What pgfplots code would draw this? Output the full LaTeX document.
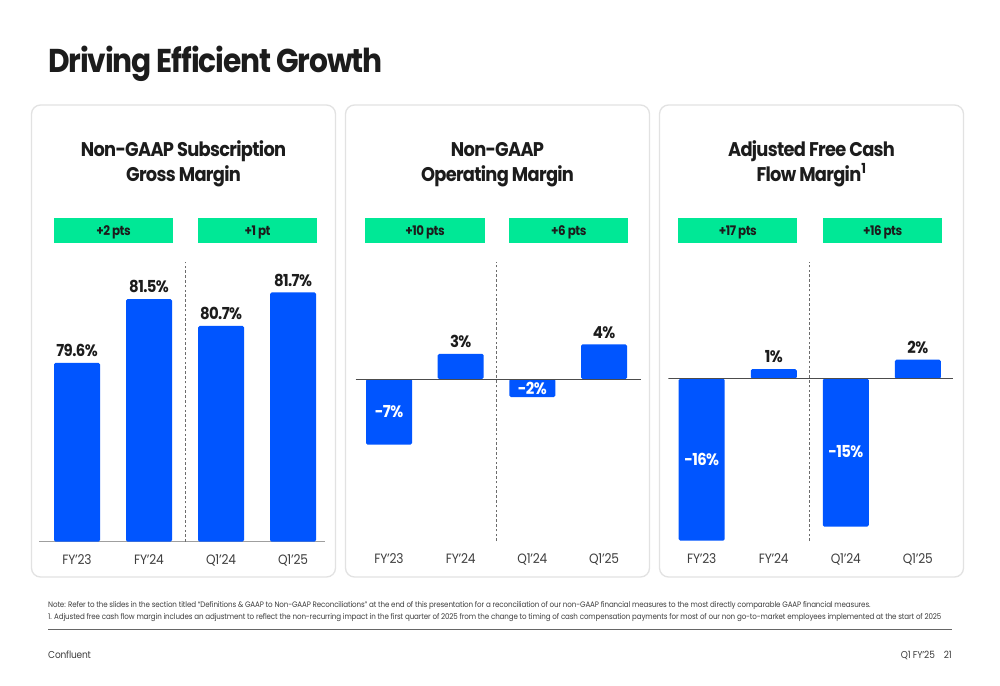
\documentclass[border=0pt]{standalone}
\usepackage{fontspec}
\setmainfont{Poppins}[FakeStretch=0.9, LetterSpace=-1.5,
  BoldFeatures={FakeStretch=0.9, LetterSpace=-3.5}]
\usepackage{pgfplots}
\pgfplotsset{compat=1.18}
\definecolor{cblue}{RGB}{0,85,255}
\definecolor{cgreen}{RGB}{0,232,150}
\definecolor{ink}{RGB}{28,28,28}
\definecolor{panelline}{RGB}{226,226,226}
\newcommand{\fs}[1]{\fontsize{#1}{#1}\selectfont}

\pgfplotsset{
  panel/.style={scale only axis, anchor=south west, width=285pt, height=279pt,
    hide y axis, axis x line*=bottom, x axis line style={draw=none},
    xtick={0,1,2,3}, xticklabels={FY’23,FY’24,Q1’24,Q1’25}, xtick style={draw=none},
    xticklabel style={font=\fs{13.5}, text=ink!85, anchor=base, yshift=-22.3pt}},
  bars/.style={ybar, bar width=46pt, bar shift=0pt, fill=cblue, draw=none, rounded corners=1.5pt,
    nodes near coords, point meta=explicit symbolic,
    every node near coord/.append style={font=\bfseries\fs{16.5}, text=ink, yshift=2.5pt}},
  inlabel/.style={draw=none, mark=none, nodes near coords, point meta=explicit symbolic,
    every node near coord/.append style={font=\bfseries\fs{16.5}, text=white, anchor=center}}
}
\tikzset{
  sep/.style={dash pattern=on 2.6pt off 2.2pt, gray!85!black, line width=0.9pt},
  zero/.style={gray!60!black, line width=1pt}
}

\begin{document}
\begin{tikzpicture}[x=1pt,y=-1pt]
\useasboundingbox (0,0) rectangle (1000,685);
\fill[white] (0,0) rectangle (1000,685);
\node[anchor=base west, font=\bfseries\fs{33}, text=ink, inner sep=0pt] at (48,72.3) {Driving Efficient Growth};

% panel frames
\foreach \px in {31.5,345.5,659.5}
  \draw[panelline, line width=1.3pt, rounded corners=9pt] (\px,105) rectangle ++(304,472);

% panel titles
\begin{scope}[every node/.style={anchor=base, font=\bfseries\fs{19.8}, text=ink, inner sep=0pt}]
\node at (183.5,156.7) {Non-GAAP Subscription};
\node at (183.5,181) {Gross Margin};
\node at (497.5,156.7) {Non-GAAP};
\node at (497.5,181) {Operating Margin};
\node at (811.5,156.7) {Adjusted Free Cash};
\node at (811.5,181.5) {Flow Margin\textsuperscript{1}};
\end{scope}

% badges
\begin{scope}[every node/.style={anchor=base, font=\bfseries\fs{13.2}, text=ink, inner sep=0pt}]
\fill[cgreen] (54,218) rectangle (173,243.3);   \node at (113.5,235) {+2 pts};
\fill[cgreen] (198,218) rectangle (317,243.3);  \node at (257.5,235) {+1 pt};
\fill[cgreen] (365.3,218) rectangle (484.7,243.3); \node at (425,235) {+10 pts};
\fill[cgreen] (509.3,218) rectangle (628.3,243.3); \node at (568.8,235) {+6 pts};
\fill[cgreen] (678.3,218) rectangle (797.3,243.3); \node at (737.8,235) {+17 pts};
\fill[cgreen] (823,218) rectangle (942.3,243.3);   \node at (882.6,235) {+16 pts};
\end{scope}

% Non-GAAP Subscription Gross Margin
\begin{axis}[panel, at={(39.3pt,-541.7pt)}, width=285.4pt, height=279.7pt,
  xmin=-0.524, xmax=3.44, ymin=74.26, ymax=82.61,
  x axis line style={draw=gray!75, line width=1pt}]
\addplot[bars] coordinates {(0,79.6)[79.6\%] (1,81.5)[81.5\%] (2,80.7)[80.7\%] (3,81.7)[81.7\%]};
\draw[sep] ({axis cs:1.5,0}|-{rel axis cs:0,0}) -- ({axis cs:1.5,0}|-{rel axis cs:0,1});
\end{axis}

% Non-GAAP Operating Margin
\begin{axis}[panel, at={(355.7pt,-541pt)}, width=285.3pt, height=279pt,
  xmin=-0.465, xmax=3.516, ymin=-18, ymax=13]
\addplot[bars] coordinates {(0,-7.3)[] (1,2.8)[3\%] (2,-2.0)[] (3,3.85)[4\%]};
\addplot[inlabel] coordinates {(0,-3.65)[-7\%] (2,-1.0)[-2\%]};
\draw[zero] ({rel axis cs:0,0}|-{axis cs:0,0}) -- ({rel axis cs:1,0}|-{axis cs:0,0});
\draw[sep] ({axis cs:1.5,0}|-{rel axis cs:0,0}) -- ({axis cs:1.5,0}|-{rel axis cs:0,1});
\end{axis}

% Adjusted Free Cash Flow Margin
\begin{axis}[panel, at={(668.3pt,-541pt)}, width=285pt, height=279pt,
  xmin=-0.464, xmax=3.493, ymin=-16.23, ymax=11.67]
\addplot[bars] coordinates {(0,-16.2)[] (1,0.95)[1\%] (2,-14.8)[] (3,1.9)[2\%]};
\addplot[inlabel] coordinates {(0,-8.1)[-16\%] (2,-7.3)[-15\%]};
\draw[zero] ({rel axis cs:0,0}|-{axis cs:0,0}) -- ({rel axis cs:1,0}|-{axis cs:0,0});
\draw[sep] ({axis cs:1.5,0}|-{rel axis cs:0,0}) -- ({axis cs:1.5,0}|-{rel axis cs:0,1});
\end{axis}

% footnotes and footer
\begin{scope}[every node/.style={anchor=base west, inner sep=0pt, text=ink!85}]
\node[font=\fs{7.9}] at (48,607.8) {Note: Refer to the slides in the section titled “Definitions \& GAAP to Non-GAAP Reconciliations” at the end of this presentation for a reconciliation of our non-GAAP financial measures to the most directly comparable GAAP financial measures.};
\node[font=\fs{7.9}] at (48,619) {1. Adjusted free cash flow margin includes an adjustment to reflect the non-recurring impact in the first quarter of 2025 from the change to timing of cash compensation payments for most of our non go-to-market employees implemented at the start of 2025};
\node[font=\fs{10}] at (48,658.5) {Confluent};
\node[font=\fs{10}, anchor=base east] at (952,658.5) {Q1 FY’25\hspace{9pt}21};
\end{scope}
\draw[gray!80!black, line width=0.9pt] (48,629.3) -- (952,629.3);
\end{tikzpicture}
\end{document}
